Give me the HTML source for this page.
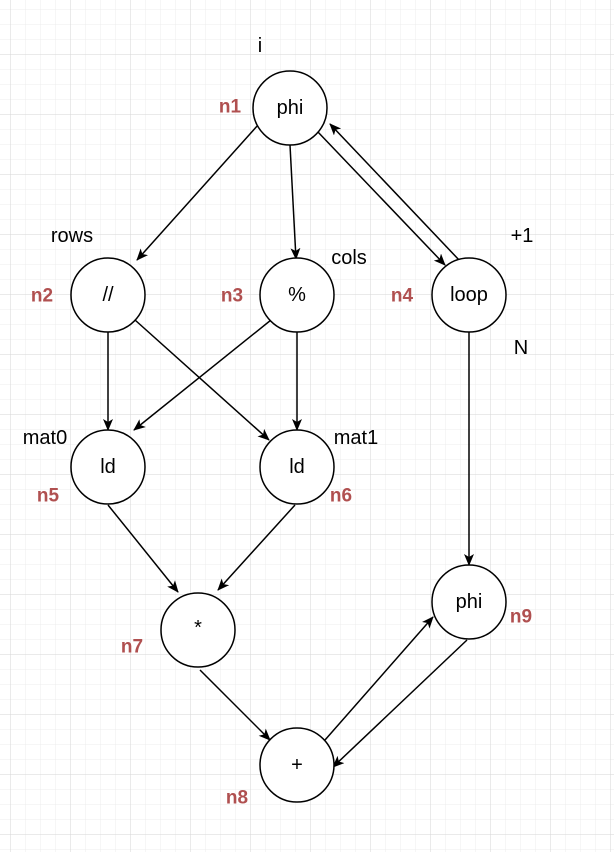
<!DOCTYPE html>
<html><head><style>
html,body{margin:0;padding:0;background:#fff;}
svg{display:block;}
text{font-family:"Liberation Sans",sans-serif;}
.t{font-size:20px;fill:#000;}
.n{font-size:19px;font-weight:bold;fill:#b05050;}
</style></head><body>
<svg width="614" height="852" xmlns="http://www.w3.org/2000/svg">
<defs>
<pattern id="minor" x="10" y="9" width="15" height="15" patternUnits="userSpaceOnUse">
<path d="M0 0H15M0 0V15" stroke="#ececec" stroke-width="1" fill="none"/>
</pattern>
<pattern id="major" x="10" y="54" width="60" height="60" patternUnits="userSpaceOnUse">
<path d="M0 0H60M0 0V60" stroke="#d6d6d6" stroke-width="1" fill="none"/>
</pattern>
<marker id="a" markerWidth="12" markerHeight="10" refX="11" refY="5" orient="auto" markerUnits="userSpaceOnUse">
<path d="M0 0L12 5L0 10L3 5Z" fill="#000"/>
</marker>
</defs>
<rect width="614" height="852" fill="url(#minor)"/>
<rect width="614" height="852" fill="url(#major)"/>
<g stroke="#000" stroke-width="1.5" fill="none" marker-end="url(#a)">
<line x1="258" y1="125" x2="137" y2="260"/>
<line x1="290" y1="145" x2="296" y2="259"/>
<line x1="317" y1="131" x2="445" y2="265"/>
<line x1="460" y1="261" x2="330" y2="124"/>
<line x1="108" y1="332" x2="108" y2="430"/>
<line x1="135" y1="320" x2="269" y2="440"/>
<line x1="271" y1="320" x2="134" y2="430"/>
<line x1="297" y1="332" x2="297" y2="430"/>
<line x1="108" y1="505" x2="178" y2="592"/>
<line x1="295" y1="505" x2="218" y2="590"/>
<line x1="469" y1="332" x2="469" y2="565"/>
<line x1="200" y1="670" x2="270" y2="740"/>
<line x1="325" y1="740" x2="433" y2="617"/>
<line x1="467" y1="640" x2="333" y2="767"/>
</g>
<g stroke="#000" stroke-width="1.5" fill="#fff">
<circle cx="290" cy="108" r="37"/>
<circle cx="108" cy="295" r="37"/>
<circle cx="297" cy="295" r="37"/>
<circle cx="469" cy="295" r="37"/>
<circle cx="108" cy="467" r="37"/>
<circle cx="297" cy="467" r="37"/>
<circle cx="198" cy="630" r="37"/>
<circle cx="297" cy="765" r="37"/>
<circle cx="469" cy="602" r="37"/>
</g>
<g class="t" text-anchor="middle" dominant-baseline="central">
<text x="290" y="108">phi</text>
<text x="108" y="295">//</text>
<text x="297" y="295">%</text>
<text x="469" y="295">loop</text>
<text x="108" y="467">ld</text>
<text x="297" y="467">ld</text>
<text x="198" y="628">*</text>
<text x="297" y="765">+</text>
<text x="469" y="602">phi</text>
<text x="260" y="46">i</text>
<text x="72" y="236">rows</text>
<text x="522" y="236">+1</text>
<text x="349" y="258">cols</text>
<text x="521" y="348">N</text>
<text x="45" y="438">mat0</text>
<text x="356" y="438">mat1</text>
</g>
<g class="n" text-anchor="middle" dominant-baseline="central">
<text x="230" y="107">n1</text>
<text x="42" y="296">n2</text>
<text x="232" y="296">n3</text>
<text x="402" y="296">n4</text>
<text x="48" y="496">n5</text>
<text x="341" y="496">n6</text>
<text x="132" y="647">n7</text>
<text x="521" y="617">n9</text>
<text x="237" y="798">n8</text>
</g>
</svg>
</body></html>
